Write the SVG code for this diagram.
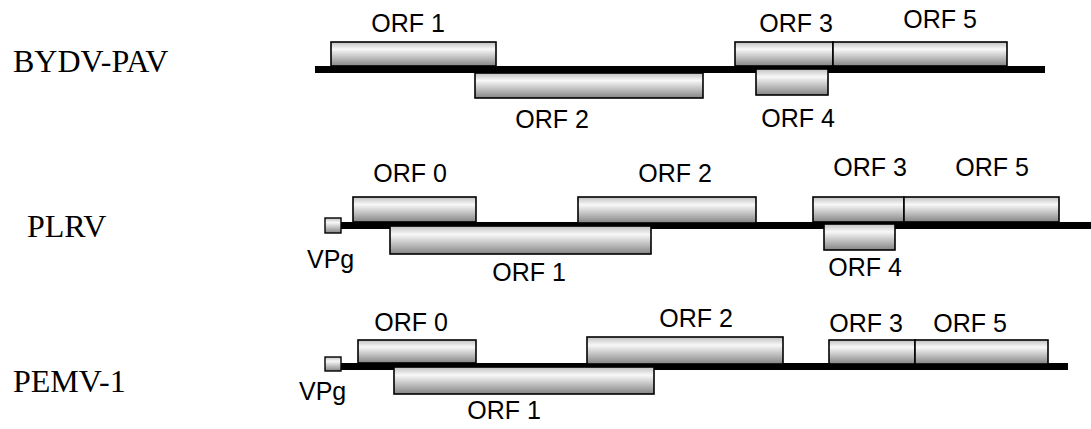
<svg xmlns="http://www.w3.org/2000/svg" width="1091" height="429" viewBox="0 0 1091 429">
<defs>
<linearGradient id="g" x1="0" y1="0" x2="0" y2="1">
<stop offset="0" stop-color="#c0c0c0"/>
<stop offset="0.3" stop-color="#f8f8f8"/>
<stop offset="1" stop-color="#858585"/>
</linearGradient>
</defs>
<style>
.box{fill:url(#g);stroke:#000;stroke-width:1.6}
.vpg{fill:url(#g);stroke:#000;stroke-width:1.4}
.lab{font-family:"Liberation Sans",Arial,sans-serif;font-size:25px;fill:#000;text-anchor:middle}
.vl{font-family:"Liberation Sans",Arial,sans-serif;font-size:25px;fill:#000}
.name{font-family:"Liberation Serif","Times New Roman",serif;font-size:32px;fill:#000}
.gen{fill:#000}
</style>
<rect width="1091" height="429" fill="#fff"/>

<g id="connectors">
<rect class="gen" x="315" y="66" width="730" height="7"/>
<rect class="gen" x="341" y="222" width="750" height="7"/>
<rect class="gen" x="341" y="363" width="727" height="7"/>
</g>

<g id="row-bydv">
<text class="name" x="13" y="72">BYDV-PAV</text>
<g id="bydv-orf1"><rect class="box" x="331" y="42" width="165" height="24"/><text class="lab" x="408" y="32">ORF 1</text></g>
<g id="bydv-orf2"><rect class="box" x="475" y="73" width="228" height="25"/><text class="lab" x="552" y="128">ORF 2</text></g>
<g id="bydv-orf3"><rect class="box" x="735" y="42" width="98" height="24"/><text class="lab" x="796" y="32">ORF 3</text></g>
<g id="bydv-orf5"><rect class="box" x="833" y="42" width="174" height="24"/><text class="lab" x="940" y="28">ORF 5</text></g>
<g id="bydv-orf4"><rect class="box" x="756" y="69" width="72" height="26"/><text class="lab" x="798" y="127">ORF 4</text></g>
</g>

<g id="row-plrv">
<text class="name" x="27" y="237">PLRV</text>
<g id="plrv-vpg"><rect class="vpg" x="325" y="218" width="16" height="15"/><text class="vl" x="307" y="268">VPg</text></g>
<g id="plrv-orf0"><rect class="box" x="353" y="197" width="123" height="25"/><text class="lab" x="410" y="182">ORF 0</text></g>
<g id="plrv-orf2"><rect class="box" x="578" y="197" width="178" height="26"/><text class="lab" x="675" y="182">ORF 2</text></g>
<g id="plrv-orf1"><rect class="box" x="390" y="226" width="261" height="28"/><text class="lab" x="529" y="281">ORF 1</text></g>
<g id="plrv-orf3"><rect class="box" x="813" y="197" width="91" height="25"/><text class="lab" x="870" y="176">ORF 3</text></g>
<g id="plrv-orf5"><rect class="box" x="904" y="197" width="155" height="25"/><text class="lab" x="992" y="176">ORF 5</text></g>
<g id="plrv-orf4"><rect class="box" x="824" y="224" width="71" height="26"/><text class="lab" x="865" y="276">ORF 4</text></g>
</g>

<g id="row-pemv">
<text class="name" x="13" y="392">PEMV-1</text>
<g id="pemv-vpg"><rect class="vpg" x="325" y="357" width="16" height="14"/><text class="vl" x="299" y="400">VPg</text></g>
<g id="pemv-orf0"><rect class="box" x="358" y="340" width="118" height="23"/><text class="lab" x="411" y="331">ORF 0</text></g>
<g id="pemv-orf2"><rect class="box" x="587" y="337" width="196" height="27"/><text class="lab" x="696" y="327">ORF 2</text></g>
<g id="pemv-orf1"><rect class="box" x="394" y="367" width="260" height="27"/><text class="lab" x="504" y="419">ORF 1</text></g>
<g id="pemv-orf3"><rect class="box" x="829" y="340" width="86" height="24"/><text class="lab" x="866" y="332">ORF 3</text></g>
<g id="pemv-orf5"><rect class="box" x="915" y="340" width="133" height="24"/><text class="lab" x="970" y="332">ORF 5</text></g>
</g>
</svg>
